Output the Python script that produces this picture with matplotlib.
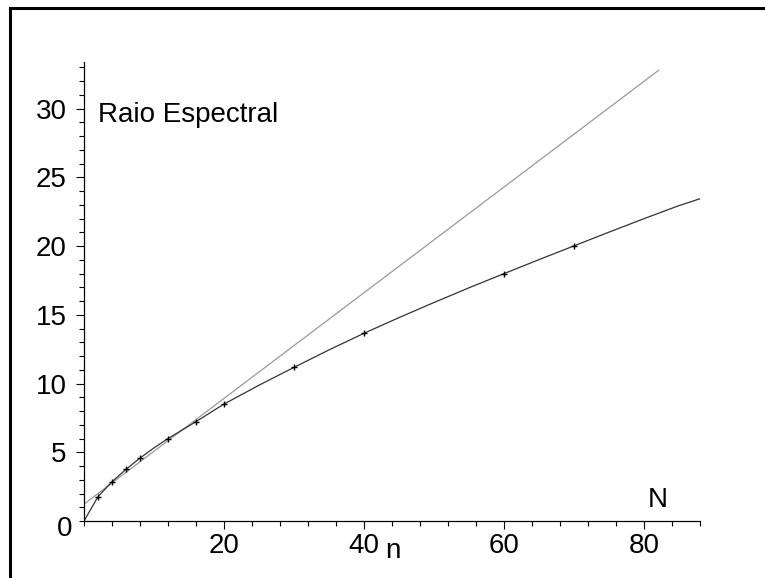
import matplotlib
matplotlib.use("Agg")
import matplotlib.pyplot as plt
from matplotlib.lines import Line2D
from matplotlib.ticker import MultipleLocator

plt.rcParams['font.family'] = ['Liberation Sans', 'DejaVu Sans']

# pontos medidos (raio espectral vs N)
n_pts = [2, 4, 6, 8, 12, 16, 20, 30, 40, 60, 70]
raio_pts = [1.77, 2.86, 3.76, 4.58, 6.0, 7.23, 8.51, 11.18, 13.66, 18.0, 20.02]

# curva
n_curve = [0, 2, 4, 6, 8, 10, 12, 16, 20, 25, 30, 35, 40, 45, 50, 55, 60, 65, 70, 75, 80, 85, 88]
raio_curve = [0.0, 1.77, 2.86, 3.76, 4.58, 5.32, 6.0, 7.23, 8.51, 9.88, 11.18, 12.45, 13.66,
              14.8, 15.9, 16.97, 18.0, 19.02, 20.02, 21.02, 22.0, 22.95, 23.45]

# reta assintotica
n_reta = [0, 82.1]
raio_reta = [1.23, 32.8]

xticks = [20, 40, 60, 80]
yticks = [5, 10, 15, 20, 25, 30]

fs = 20

fig = plt.figure(figsize=(7.65, 5.78), dpi=100)
ax = fig.add_axes([84 / 765, 57 / 578, 616 / 765, 459 / 578])

ax.plot(n_reta, raio_reta, color="#9a9a9a", lw=0.9)
ax.plot(n_curve, raio_curve, color="#333333", lw=0.9)
ax.plot(n_pts, raio_pts, ls="none", marker="+", ms=5, mew=1, color="black")

ax.set_xlim(0, 88)
ax.set_ylim(0, 33.4)
ax.spines['top'].set_visible(False)
ax.spines['right'].set_visible(False)
for s in ['left', 'bottom']:
    ax.spines[s].set_linewidth(0.9)

ax.set_xticks(xticks)
ax.set_yticks(yticks)
ax.xaxis.set_minor_locator(MultipleLocator(4))
ax.yaxis.set_minor_locator(MultipleLocator(1))
ax.tick_params(which='major', length=5.5, width=0.8, labelsize=fs, pad=3)
ax.tick_params(which='minor', length=3.5, width=0.8)
ax.tick_params(axis='y', pad=7)

ax.text(-1.7, -0.6, "0", fontsize=fs, ha="right", va="center", clip_on=False)
ax.text(2.0, 29.0, "Raio Espectral", fontsize=fs, ha="left", va="baseline")
ax.text(80.6, 1.0, "N", fontsize=fs, ha="left", va="baseline")
ax.text(43.0, -2.7, "n", fontsize=fs, ha="left", va="baseline", clip_on=False)

# moldura (so topo e esquerda aparecem)
fig.add_artist(Line2D([9.5 / 765, 1.0], [1 - 8 / 578, 1 - 8 / 578], color="black", lw=2.2,
                      transform=fig.transFigure))
fig.add_artist(Line2D([9.5 / 765, 9.5 / 765], [0.0, 1 - 8 / 578], color="black", lw=2.2,
                      transform=fig.transFigure))

fig.savefig("out.png", dpi=100)
